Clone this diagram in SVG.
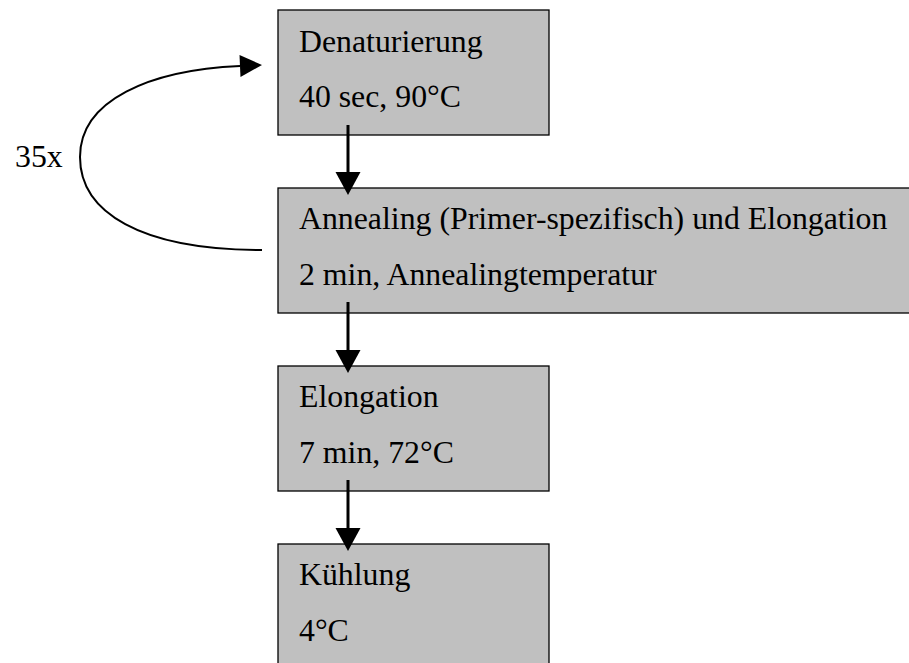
<svg xmlns="http://www.w3.org/2000/svg" width="909" height="663" viewBox="0 0 909 663">
<style>
.box{fill:#c0c0c0;stroke:#000;stroke-width:1.3}
.t{font-family:"Liberation Serif","Times New Roman",serif;font-size:31.8px;fill:#000}
.arr{stroke:#000;stroke-width:3;fill:none}
.loop{stroke:#000;stroke-width:2;fill:none}
</style>
<defs>
<marker id="ah" markerUnits="userSpaceOnUse" markerWidth="24" markerHeight="26" refX="0" refY="12.5" orient="auto" overflow="visible">
<path d="M0,0 L23,12.5 L0,25 Z" fill="#000"/>
</marker>
<marker id="ah2" markerUnits="userSpaceOnUse" markerWidth="23" markerHeight="23" refX="0" refY="11" orient="auto" overflow="visible">
<path d="M0,0 L22,11 L0,22 Z" fill="#000"/>
</marker>
</defs>
<g id="node-denaturierung">
<rect class="box" x="278" y="10" width="271" height="125"/>
<text class="t" x="299" y="52">Denaturierung</text>
<text class="t" x="299" y="107">40 sec, 90°C</text>
</g>
<g id="node-annealing">
<rect class="box" x="278" y="188" width="640" height="125"/>
<text class="t" x="299" y="229">Annealing (Primer-spezifisch) und Elongation</text>
<text class="t" x="299" y="285">2 min, Annealingtemperatur</text>
</g>
<g id="node-elongation">
<rect class="box" x="278" y="366" width="271" height="125"/>
<text class="t" x="299" y="407">Elongation</text>
<text class="t" x="299" y="463">7 min, 72°C</text>
</g>
<g id="node-kuehlung">
<rect class="box" x="278" y="544" width="271" height="130"/>
<text class="t" x="299" y="585">Kühlung</text>
<text class="t" x="299" y="641">4°C</text>
</g>
<g id="label-35x">
<text class="t" x="15" y="167">35x</text>
</g>
<g id="connectors">
<line class="arr" x1="348" y1="125" x2="348" y2="172" marker-end="url(#ah)"/>
<line class="arr" x1="348" y1="302" x2="348" y2="350" marker-end="url(#ah)"/>
<line class="arr" x1="348" y1="480" x2="348" y2="528" marker-end="url(#ah)"/>
<path class="loop" d="M262,250 C140,250 80,212 80,157 C80,100 150,70 240,66" marker-end="url(#ah2)"/>
</g>
</svg>
